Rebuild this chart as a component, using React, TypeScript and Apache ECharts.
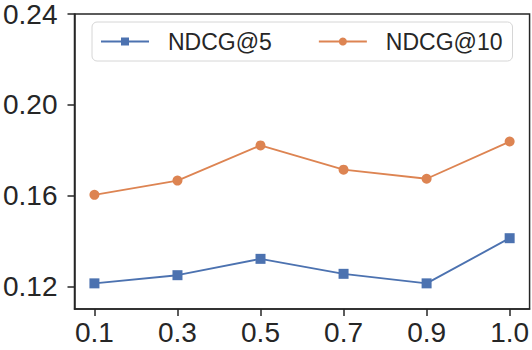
import React, { useEffect, useRef } from "react";
import * as echarts from "echarts";

const categories = ["0.1", "0.3", "0.5", "0.7", "0.9", "1.0"];
const ndcg5 = [0.1213, 0.1249, 0.1321, 0.1255, 0.1213, 0.1412];
const ndcg10 = [0.1603, 0.1666, 0.1821, 0.1714, 0.1674, 0.1838];
const yTicks = [0.12, 0.16, 0.2, 0.24];
const xTicks = [0, 1, 2, 3, 4, 5];

const FONT = "'Liberation Sans', Arial, sans-serif";
const DARK = "#262626";

export default function App() {
  const ref = useRef<HTMLDivElement>(null);
  useEffect(() => {
    if (!ref.current) return;
    const chart = echarts.init(ref.current, null, { renderer: "svg" });
    chart.setOption({
      animation: false,
      backgroundColor: "#ffffff",
      grid: {
        left: 72,
        top: 11,
        width: 458,
        height: 298,
        show: true,
        borderColor: DARK,
        borderWidth: 1.5,
        backgroundColor: "transparent",
      },
      legend: {
        left: 92,
        top: 22,
        orient: "horizontal",
        itemWidth: 48,
        itemHeight: 10,
        itemGap: 46,
        padding: [8, 10, 8, 8],
        borderColor: "#d6d6d6",
        borderWidth: 1,
        borderRadius: 5,
        backgroundColor: "#ffffff",
        textStyle: {
          fontFamily: FONT,
          fontSize: 23,
          color: DARK,
          padding: [0, 0, 0, 14],
        },
        data: ["NDCG@5", "NDCG@10"],
      },
      xAxis: {
        type: "value",
        min: -0.24,
        max: 5.24,
        axisLine: { show: true, onZero: false, lineStyle: { color: DARK, width: 1.5 } },
        axisTick: {
          show: true,
          length: 7,
          customValues: xTicks,
          lineStyle: { color: DARK, width: 1.5 },
        },
        axisLabel: {
          customValues: xTicks,
          margin: 9,
          fontFamily: FONT,
          fontSize: 28,
          color: DARK,
          formatter: (v: number) => categories[Math.round(v)] ?? "",
        },
        splitLine: { show: false },
      },
      yAxis: {
        type: "value",
        min: 0.11,
        max: 0.24,
        axisLine: { show: true, onZero: false, lineStyle: { color: DARK, width: 1.5 } },
        axisTick: {
          show: true,
          length: 7,
          customValues: yTicks,
          lineStyle: { color: DARK, width: 1.5 },
        },
        axisLabel: {
          customValues: yTicks,
          margin: 17,
          fontFamily: FONT,
          fontSize: 28,
          color: DARK,
          formatter: (v: number) => v.toFixed(2),
        },
        splitLine: { show: false },
      },
      series: [
        {
          name: "NDCG@5",
          type: "line",
          data: ndcg5.map((v, i) => [i, v]),
          symbol: "rect",
          symbolSize: 10,
          color: "#4c72b0",
          lineStyle: { width: 1.9, color: "#4c72b0" },
          itemStyle: { color: "#4c72b0" },
        },
        {
          name: "NDCG@10",
          type: "line",
          data: ndcg10.map((v, i) => [i, v]),
          symbol: "circle",
          symbolSize: 10,
          color: "#dd8452",
          lineStyle: { width: 1.9, color: "#dd8452" },
          itemStyle: { color: "#dd8452" },
        },
      ],
    });
    return () => chart.dispose();
  }, []);
  return (
    <div
      ref={ref}
      style={{ position: "absolute", left: 0, top: 0, width: 532, height: 350 }}
    />
  );
}
